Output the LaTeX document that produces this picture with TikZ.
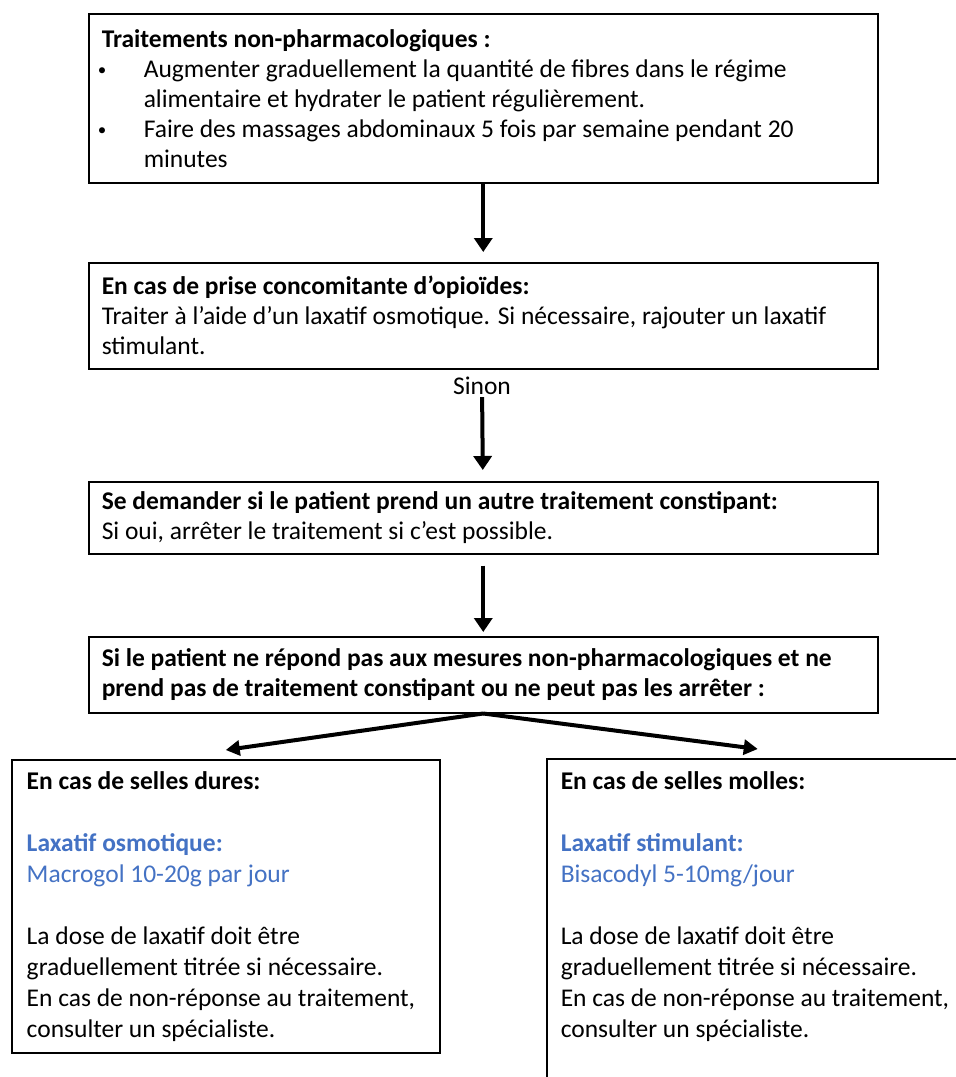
\documentclass[tikz,border=0pt]{standalone}
\usepackage{fontspec}
\setmainfont{Carlito}
\usetikzlibrary{positioning,arrows.meta}
\definecolor{offblue}{HTML}{4472C4}

\begin{document}
\begin{tikzpicture}[x=1pt,y=-1pt,
	every node/.style={font=\fontsize{25.5}{30}\selectfont},
	box/.style={draw,line width=1.5pt,anchor=north west,align=flush left,inner xsep=13pt},
	arr/.style={line width=4pt,-{Triangle[length=14pt,width=18pt]}}]
\clip (0,0) rectangle (956,1077);
\fill[white] (0,0) rectangle (956,1077);
\node[box,text width=763pt,minimum height=169pt] (b1) at (88,13) {\textbf{Traitements non-pharmacologiques :}\\
	\makebox[42pt][l]{\hspace{-4pt}\raisebox{2pt}{\fontsize{17}{17}\selectfont•}}Augmenter graduellement la quantité de fibres dans le régime\\
	\hspace*{42pt}alimentaire et hydrater le patient régulièrement.\\
	\makebox[42pt][l]{\hspace{-4pt}\raisebox{2pt}{\fontsize{17}{17}\selectfont•}}Faire des massages abdominaux 5 fois par semaine pendant 20\\
	\hspace*{42pt}minutes};
\node[box,text width=763pt,minimum height=106pt] (b2) at (88,262) {\textbf{En cas de prise concomitante d’opioïdes:}\\
	Traiter à l’aide d’un laxatif osmotique. Si nécessaire, rajouter un laxatif\\
	stimulant.};
\node[inner sep=2pt] (sinon) at (482,386) {Sinon};
\node[box,text width=763pt,minimum height=72pt] (b3) at (88,481) {\textbf{Se demander si le patient prend un autre traitement constipant:}\\
	Si oui, arrêter le traitement si c’est possible.};
\node[box,text width=763pt,minimum height=76pt] (b4) at (88,636) {\textbf{Si le patient ne répond pas aux mesures non-pharmacologiques et ne}\\
	\textbf{prend pas de traitement constipant ou ne peut pas les arrêter :}};
% deux cas
\node[box,text width=398pt,inner xsep=15pt,minimum height=293pt,font=\fontsize{25.5}{31}\selectfont] (b5) at (11,759) {\textbf{En cas de selles dures:}\\[31pt]
	\textcolor{offblue}{\textbf{Laxatif osmotique:}}\\
	\textcolor{offblue}{Macrogol 10-20g par jour}\\[31pt]
	La dose de laxatif doit être\\
	graduellement titrée si nécessaire.\\
	En cas de non-réponse au traitement,\\
	consulter un spécialiste.};
\node[box,inner xsep=14pt,inner ysep=13pt,font=\fontsize{25.5}{31}\selectfont] (b6) at (546,758) {\parbox[c][330pt][t]{394pt}{\raggedright
	\textbf{En cas de selles molles:}\\[31pt]
	\textcolor{offblue}{\textbf{Laxatif stimulant:}}\\
	\textcolor{offblue}{Bisacodyl 5-10mg/jour}\\[31pt]
	La dose de laxatif doit être\\
	graduellement titrée si nécessaire.\\
	En cas de non-réponse au traitement,\\
	consulter un spécialiste.}};

\draw[arr,shorten >=10pt] (b1) -- (b2);
\draw[arr,shorten >=11pt] (sinon) -- (b3);
\draw[arr,shorten <=11pt,shorten >=4pt] (b3) -- (b4);
\foreach \b in {b5,b6}
	\draw[arr,-{Triangle[length=14pt,width=15pt]}] (b4.south) -- ([yshift=9pt]\b.north);
\end{tikzpicture}
\end{document}
